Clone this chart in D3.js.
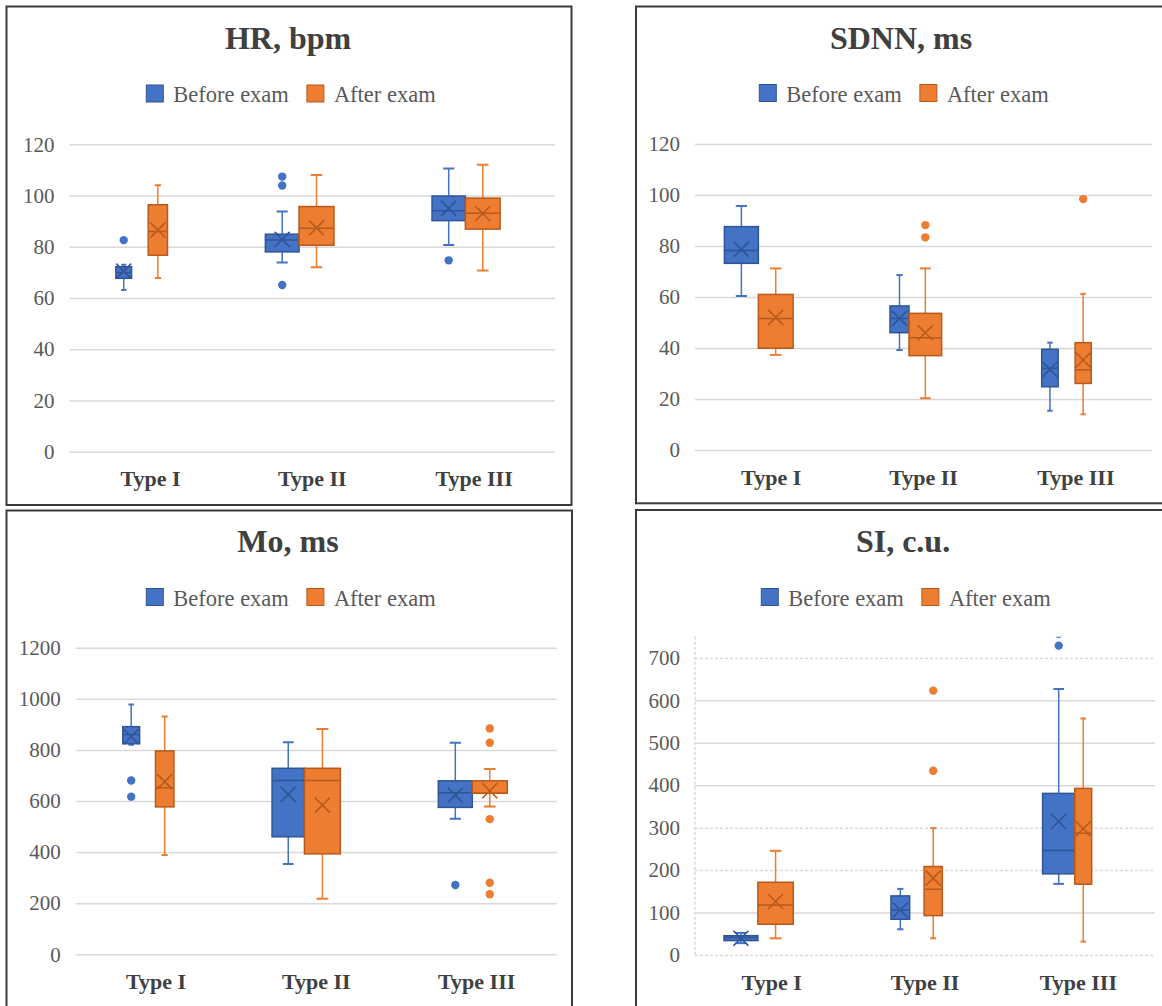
<!DOCTYPE html>
<html>
<head>
<meta charset="utf-8">
<script src="https://cdn.jsdelivr.net/npm/d3@7"></script>
<style>
  html, body { margin: 0; padding: 0; background: #ffffff; }
  svg { display: block; }
</style>
</head>
<body>
<svg id="chart" width="1162" height="1006"></svg>
<script>
// categories and series
const categories = ["Type I", "Type II", "Type III"];
const seriesNames = ["Before exam", "After exam"];

// box rows: [lower whisker, Q1, median, Q3, upper whisker, mean]
const hrBefore = [[63.1, 67.7, 70, 72.2, 73, 70.5], [73.9, 78, 82.6, 84.9, 93.8, 82.9], [80.7, 90.2, 94.1, 99.8, 110.6, 95]];
const hrAfter = [[67.8, 76.7, 86, 96.4, 104, 86.5], [72, 80.6, 87.2, 95.7, 108, 87.4], [70.7, 86.9, 93.1, 99, 112, 93]];
const hrBeforeOut = [[82.6], [65.1, 103.9, 107.4], [74.7]];
const hrAfterOut = [[], [], []];

const sdnnBefore = [[60.4, 73.2, 78.2, 87.6, 95.7, 78.7], [39.2, 46, 51.6, 56.5, 68.6, 51.6], [15.4, 24.8, 32, 39.5, 42.1, 31.6]];
const sdnnAfter = [[37.3, 39.9, 51.6, 61, 71.2, 52], [20.3, 37, 44, 53.6, 71.2, 46], [14, 26.1, 31.4, 42.1, 61.2, 35.3]];
const sdnnBeforeOut = [[], [], []];
const sdnnAfterOut = [[], [83.4, 88.2], [98.4]];

const moBefore = [[820, 824, 860, 891, 978, 852], [353, 460, 680, 728, 830, 626], [531, 575, 632, 679, 828, 623]];
const moAfter = [[389, 577, 652, 796, 931, 676], [217, 393, 680, 728, 882, 584], [578, 630, 630, 679, 725, 640]];
const moBeforeOut = [[617, 680], [], [271]];
const moAfterOut = [[], [], [235, 280, 529, 828, 884]];

const siBefore = [[28, 34, 41, 45.5, 52, 39.4], [60.6, 84.2, 106, 139.3, 155.8, 106], [167.6, 191.2, 246.3, 380.8, 627, 314.7]];
const siAfter = [[39.3, 72.4, 118, 171.5, 245.5, 126], [39.3, 92.8, 155, 208.5, 299, 181], [31.5, 166.8, 287, 392.6, 557, 297.4]];
const siBeforeOut = [[], [], [729, 757]];
const siAfterOut = [[], [434, 623], []];

// tick labels
const hrTicks = [0, 20, 40, 60, 80, 100, 120];
const sdnnTicks = [0, 20, 40, 60, 80, 100, 120];
const moTicks = [0, 200, 400, 600, 800, 1000, 1200];
const siTicks = [0, 100, 200, 300, 400, 500, 600, 700];

const fillColors = ["#4472C4", "#ED7D31"];
const lineColors = ["#2F5597", "#B85A1C"];
const serif = "Liberation Serif, Times New Roman, serif";

// layout of the four panels (frame and plot area in page pixels)
const panels = [
  { title: "HR, bpm", ticks: hrTicks, yMax: 120, stats: [hrBefore, hrAfter], outliers: [hrBeforeOut, hrAfterOut],
    frame: [6.5, 6.5, 571.5, 505], plot: [69.6, 144.3, 555, 451.7], titleX: 288, titleY: 49, legendY: 94,
    slots: [[0.286, 0.383, 0.486, 0.605], [0.21, 0.418, 0.418, 0.634], [0.24, 0.446, 0.446, 0.661]] },
  { title: "SDNN, ms", ticks: sdnnTicks, yMax: 120, stats: [sdnnBefore, sdnnAfter], outliers: [sdnnBeforeOut, sdnnAfterOut],
    frame: [636, 6.5, 1180, 503.3], plot: [695, 144, 1152, 450], titleX: 901, titleY: 49, legendY: 93.5,
    slots: [[0.193, 0.416, 0.416, 0.644], [0.28, 0.405, 0.405, 0.619], [0.276, 0.384, 0.495, 0.601]] },
  { title: "Mo, ms", ticks: moTicks, yMax: 1200, stats: [moBefore, moAfter], outliers: [moBeforeOut, moAfterOut],
    frame: [6.5, 510.5, 572, 1020], plot: [75.8, 647.7, 556.8, 954.3], titleX: 288, titleY: 552, legendY: 597.5,
    slots: [[0.293, 0.398, 0.497, 0.612], [0.224, 0.426, 0.426, 0.65], [0.261, 0.473, 0.473, 0.691]] },
  { title: "SI, c.u.", ticks: siTicks, yMax: 750, stats: [siBefore, siAfter], outliers: [siBeforeOut, siAfterOut],
    frame: [636, 510, 1180, 1020], plot: [695, 636.7, 1155, 955], titleX: 903, titleY: 552, legendY: 597.5,
    slots: [[0.189, 0.41, 0.41, 0.641], [0.278, 0.4, 0.494, 0.613], [0.267, 0.477, 0.477, 0.587]],
    dashed: [0, 200, 300, 700], axisLine: true }
];

const svg = d3.select("#chart");
svg.append("rect").attr("width", 1162).attr("height", 1006).attr("fill", "#ffffff");

panels.forEach((p, pi) => {
  const g = svg.append("g");
  const [pl, pt, pr, pb] = p.plot;

  // frame
  g.append("rect")
    .attr("x", p.frame[0]).attr("y", p.frame[1])
    .attr("width", p.frame[2] - p.frame[0]).attr("height", p.frame[3] - p.frame[1])
    .attr("fill", "#ffffff").attr("stroke", "#3a3a3a").attr("stroke-width", 2);

  const x = d3.scaleBand().domain(categories).range([pl, pr]).padding(0);
  const y = d3.scaleLinear().domain([0, p.yMax]).range([pb, pt]);

  // gridlines
  const grid = g.append("g")
    .attr("transform", `translate(${pl},0)`)
    .call(d3.axisLeft(y).tickValues(p.ticks).tickSize(-(pr - pl)).tickFormat(""));
  grid.select(".domain").remove();
  grid.selectAll(".tick line")
    .attr("stroke", "#d9d9d9").attr("stroke-width", 1.5)
    .attr("stroke-dasharray", d => (p.dashed && p.dashed.includes(d)) ? "3,2" : null);

  if (p.axisLine) {
    g.append("line")
      .attr("x1", pl).attr("x2", pl).attr("y1", pt).attr("y2", pb)
      .attr("stroke", "#d9d9d9").attr("stroke-width", 1.5).attr("stroke-dasharray", "3,2");
  }

  // y tick labels
  const yAxis = g.append("g")
    .attr("transform", `translate(${pl},0)`)
    .call(d3.axisLeft(y).tickValues(p.ticks).tickSize(0).tickPadding(15).tickFormat(d3.format("d")))
    .attr("font-family", serif).attr("font-size", 21);
  yAxis.select(".domain").remove();
  yAxis.selectAll("text")
    .style("font-family", serif).style("font-size", "21px").attr("fill", "#595959");

  // category labels
  const xAxis = g.append("g")
    .attr("transform", `translate(0,${pb})`)
    .call(d3.axisBottom(x).tickSize(0).tickPadding(19))
    .attr("font-family", serif).attr("font-size", 22);
  xAxis.select(".domain").remove();
  xAxis.selectAll("text")
    .style("font-family", serif).style("font-size", "22px").style("font-weight", "bold")
    .attr("fill", "#404040");

  // title
  g.append("text")
    .attr("x", p.titleX).attr("y", p.titleY)
    .attr("text-anchor", "middle")
    .style("font-family", serif).style("font-size", "32px").style("font-weight", "bold")
    .attr("fill", "#404040")
    .text(p.title);

  // legend
  const leg = g.append("g");
  let lx = 0;
  seriesNames.forEach((name, si) => {
    leg.append("rect")
      .attr("x", lx).attr("y", p.legendY - 9).attr("width", 17).attr("height", 17)
      .attr("fill", fillColors[si]).attr("stroke", lineColors[si]).attr("stroke-width", 1);
    const t = leg.append("text")
      .attr("x", lx + 27).attr("y", p.legendY + 8)
      .style("font-family", serif).style("font-size", "22.5px").attr("fill", "#595959")
      .text(name);
    lx += 27 + t.node().getComputedTextLength() + 18;
  });
  const legW = lx - 18;
  leg.attr("transform", `translate(${p.titleX + 3 - legW / 2},0)`);

  // clip to plot area
  const clipId = "clip" + pi;
  g.append("clipPath").attr("id", clipId)
    .append("rect").attr("x", pl - 20).attr("y", pt).attr("width", pr - pl + 40).attr("height", pb - pt + 10);
  const plotG = g.append("g").attr("clip-path", `url(#${clipId})`);

  const bw = x.bandwidth();
  categories.forEach((cat, ci) => {
    const slot = p.slots[ci];
    [0, 1].forEach(si => {
      const [lo, q1, med, q3, hi, mean] = p.stats[si][ci];
      const left = x(cat) + slot[si * 2] * bw;
      const right = x(cat) + slot[si * 2 + 1] * bw;
      const cx = (left + right) / 2;
      const capW = (right - left) * 0.33;
      const bg = plotG.append("g");

      // whiskers
      bg.append("line").attr("x1", cx).attr("x2", cx).attr("y1", y(hi)).attr("y2", y(q3))
        .attr("stroke", fillColors[si]).attr("stroke-width", 1.5);
      bg.append("line").attr("x1", cx).attr("x2", cx).attr("y1", y(q1)).attr("y2", y(lo))
        .attr("stroke", fillColors[si]).attr("stroke-width", 1.5);
      [hi, lo].forEach(v => {
        bg.append("line").attr("x1", cx - capW / 2).attr("x2", cx + capW / 2)
          .attr("y1", y(v)).attr("y2", y(v))
          .attr("stroke", fillColors[si]).attr("stroke-width", 2);
      });

      // box
      bg.append("rect")
        .attr("x", left).attr("y", y(q3))
        .attr("width", right - left).attr("height", y(q1) - y(q3))
        .attr("fill", fillColors[si]).attr("stroke", lineColors[si]).attr("stroke-width", 1.5);

      // median
      bg.append("line").attr("x1", left).attr("x2", right).attr("y1", y(med)).attr("y2", y(med))
        .attr("stroke", lineColors[si]).attr("stroke-width", 1.5);

      // mean marker
      const m = 7.5, my = y(mean);
      bg.append("path")
        .attr("d", `M${cx - m},${my - m}L${cx + m},${my + m}M${cx - m},${my + m}L${cx + m},${my - m}`)
        .attr("stroke", lineColors[si]).attr("stroke-width", 1.6).attr("fill", "none");

      // outliers
      bg.selectAll("circle.out")
        .data(p.outliers[si][ci])
        .enter()
        .append("circle")
        .attr("class", "out")
        .attr("cx", cx).attr("cy", d => y(d)).attr("r", 4.2)
        .attr("fill", fillColors[si]);
    });
  });
});
</script>
</body>
</html>
